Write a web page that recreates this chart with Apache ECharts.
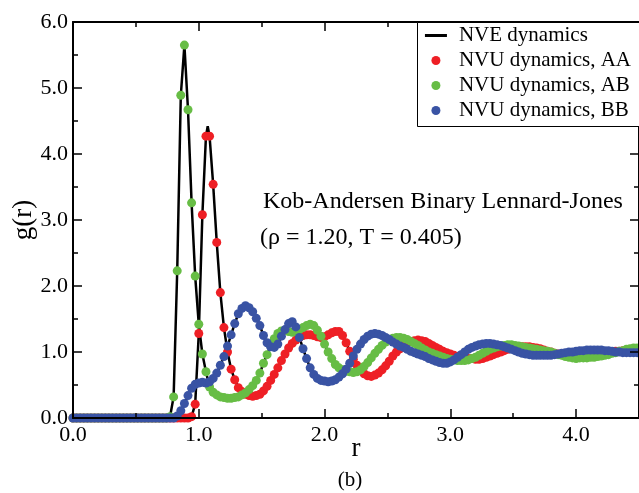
<!DOCTYPE html>
<html>
<head>
<meta charset="utf-8">
<script src="https://cdn.jsdelivr.net/npm/echarts/dist/echarts.min.js"></script>
<style>html,body{margin:0;padding:0;background:#fff}#c{width:639px;height:493px}</style>
</head>
<body>
<div id="c"></div>
<script>
// sampling step of r (dots are spaced 1/35 apart in r)
const rStep = 1 / 35;

// g(r), one value per sample, r = 0 ... 4.486
const gAA = [
 0,0,0,0,0,0,0,0,0,0, 0,0,0,0,0,0,0,0,0,0, 0,0,0,0,0,0,0,0,0,0, 0,0,0,
 0.02,0.21,1.28,3.08,4.27,4.27,3.54,2.66,1.90,1.37,
 1.00,0.74,0.58,0.46,0.40,0.36,0.34,0.33,0.34,0.36,
 0.41,0.48,0.57,0.66,0.76,0.87,0.97,1.06,1.13,1.18,
 1.22,1.25,1.26,1.26,1.25,1.23,1.22,1.23,1.26,1.29,
 1.31,1.31,1.25,1.14,1.01,0.89,0.80,0.72,0.67,0.64,
 0.63,0.65,0.68,0.73,0.79,0.86,0.94,1.00,1.05,1.10,
 1.14,1.16,1.17,1.18,1.17,1.16,1.13,1.10,1.07,1.04,
 1.01,0.99,0.97,0.95,0.93,0.92,0.91,0.90,0.90,0.89,
 0.89,0.90,0.92,0.94,0.96,0.98,1.00,1.02,1.04,1.06,
 1.07,1.08,1.08,1.08,1.08,1.07,1.06,1.05,1.03,1.01,
 1.00,0.98,0.97,0.96,0.95,0.94,0.94,0.93,0.93,0.93,
 0.94,0.94,0.95,0.96,0.97,0.98,0.99,1.00,1.01,1.01,
 1.02,1.02,1.03,1.03,1.03
];
const gAB = [
 0,0,0,0,0,0,0,0,0,0, 0,0,0,0,0,0,0,0,0,0, 0,0,0,0,0,0,0,
 0.02,0.32,2.23,4.89,5.65,4.67,3.26,2.15,1.42,0.97,
 0.70,0.47,0.39,0.35,0.32,0.31,0.30,0.30,0.31,0.32,
 0.35,0.38,0.43,0.49,0.57,0.68,0.83,0.96,1.09,1.20,
 1.28,1.32,1.33,1.31,1.30,1.31,1.34,1.37,1.40,1.42,
 1.40,1.33,1.24,1.12,1.00,0.90,0.81,0.76,0.73,0.71,
 0.70,0.69,0.70,0.73,0.78,0.84,0.91,0.98,1.04,1.10,
 1.15,1.19,1.21,1.22,1.22,1.21,1.19,1.16,1.13,1.10,
 1.06,1.03,1.00,0.98,0.96,0.94,0.92,0.90,0.89,0.88,
 0.87,0.87,0.87,0.88,0.90,0.92,0.95,0.98,1.01,1.04,
 1.06,1.08,1.09,1.10,1.11,1.11,1.10,1.09,1.08,1.07,
 1.06,1.05,1.04,1.03,1.02,1.01,1.00,0.98,0.96,0.95,
 0.93,0.92,0.91,0.90,0.91,0.91,0.91,0.92,0.92,0.93,
 0.94,0.95,0.96,0.98,0.99,1.01,1.02,1.04,1.05,1.06,
 1.06
];
const gBB = [
 0,0,0,0,0,0,0,0,0,0, 0,0,0,0,0,0,0,0,0,0, 0,0,0,0,0,0,0,0,0,
 0.03,0.11,0.22,0.34,0.45,0.51,0.53,0.54,0.53,0.55,0.60,
 0.68,0.80,0.93,1.09,1.26,1.43,1.58,1.66,1.70,1.67,
 1.61,1.51,1.40,1.25,1.14,1.08,1.07,1.12,1.24,1.34,
 1.43,1.46,1.38,1.22,1.05,0.90,0.76,0.66,0.60,0.57,
 0.56,0.55,0.56,0.58,0.62,0.67,0.74,0.83,0.94,1.04,
 1.12,1.19,1.24,1.27,1.28,1.27,1.25,1.22,1.19,1.15,
 1.12,1.09,1.07,1.04,1.01,0.99,0.97,0.95,0.93,0.90,
 0.88,0.86,0.84,0.83,0.83,0.85,0.88,0.92,0.96,1.00,
 1.04,1.07,1.09,1.11,1.12,1.13,1.13,1.12,1.11,1.10,
 1.08,1.06,1.04,1.02,1.00,0.98,0.97,0.96,0.95,0.95,
 0.95,0.95,0.95,0.95,0.96,0.97,0.98,0.99,1.00,1.00,
 1.01,1.02,1.02,1.03,1.03,1.03,1.03,1.03,1.02,1.02,
 1.01,1.00,1.00,0.99,0.99,0.99,0.99,0.99
];
// NVE curve: extra sample at the top of the AA first peak (r, g)
const nveAAPeak = [1.071, 4.42];

const xTickLabels = ['0.0', '1.0', '2.0', '3.0', '4.0'];
const yTickLabels = ['0.0', '1.0', '2.0', '3.0', '4.0', '5.0', '6.0'];
const seriesNames = ['NVE dynamics', 'NVU dynamics, AA', 'NVU dynamics, AB', 'NVU dynamics, BB'];
const colors = ['#000000', '#ee1f25', '#67bd45', '#3953a4'];

function pairs(g) { return g.map((v, i) => [+(i * rStep).toFixed(5), v]); }
const aa = pairs(gAA), ab = pairs(gAB), bb = pairs(gBB);
const nveAA = aa.concat([nveAAPeak]).sort((p, q) => p[0] - q[0]);

const serif = '"Liberation Serif", "Times New Roman", serif';
const black = '#000';

function xAx(pos, interval, len, main) {
  return {
    type: 'value', position: pos, min: 0, max: 4.5, interval: interval,
    axisLine: { show: main, onZero: false, lineStyle: { color: black, width: 2 } },
    axisTick: { show: true, inside: true, length: len, lineStyle: { color: black, width: 1.5 } },
    axisLabel: main && pos === 'bottom' ? {
      show: true, margin: 6, color: black, fontSize: 22, fontFamily: serif,
      showMaxLabel: false, hideOverlap: false,
      // the 0.0 label is drawn below as text so that it may overlap the y-axis 0.0 like the original
      formatter: v => (v > 0 && Number.isInteger(v) && xTickLabels[v] !== undefined) ? xTickLabels[v] : ''
    } : { show: false },
    splitLine: { show: false },
    z: 10
  };
}
function yAx(pos, main) {
  return {
    type: 'value', position: pos, min: 0, max: 6, interval: 1,
    axisLine: { show: true, onZero: false, lineStyle: { color: black, width: 2 } },
    axisTick: { show: true, inside: true, length: 9, lineStyle: { color: black, width: 1.5 } },
    minorTick: { show: true, splitNumber: 2, length: 5, lineStyle: { color: black, width: 1.5 } },
    axisLabel: main ? {
      show: true, margin: 5, color: black, fontSize: 22, fontFamily: serif, hideOverlap: false,
      formatter: v => (Number.isInteger(v) && yTickLabels[v] !== undefined) ? yTickLabels[v] : ''
    } : { show: false },
    splitLine: { show: false },
    minorSplitLine: { show: false },
    z: 10
  };
}

const xAxes = [xAx('bottom', 1, 9, true), xAx('bottom', 0.5, 5, false), xAx('top', 1, 9, true), xAx('top', 0.5, 5, false)];
xAxes[0].name = 'r';
xAxes[0].nameLocation = 'middle';
xAxes[0].nameGap = 17;
xAxes[0].nameMoveOverlap = false;
xAxes[0].nameTextStyle = { fontSize: 27, fontFamily: serif, color: black };
const yAxes = [yAx('left', true), yAx('right', false)];
yAxes[0].name = 'g(r)';
yAxes[0].nameLocation = 'middle';
yAxes[0].nameGap = 36;
yAxes[0].nameMoveOverlap = false;
yAxes[0].nameTextStyle = { fontSize: 27, fontFamily: serif, color: black };

function nveLine(data) {
  return {
    name: seriesNames[0], type: 'line', data: data, symbol: 'none', showSymbol: false,
    lineStyle: { color: colors[0], width: 2.5 }, itemStyle: { color: colors[0] },
    z: 2, silent: true
  };
}
function dots(k, data) {
  return {
    name: seriesNames[k], type: 'scatter', data: data, symbol: 'circle', symbolSize: 9,
    itemStyle: { color: colors[k], opacity: 1 }, z: 3, silent: true
  };
}

const chart = echarts.init(document.getElementById('c'), null, { renderer: 'canvas' });
chart.setOption({
  animation: false,
  backgroundColor: '#fff',
  grid: { left: 73, top: 22, width: 568, height: 396, containLabel: false },
  xAxis: xAxes,
  yAxis: yAxes,
  legend: {
    orient: 'vertical', right: -30, top: 22, z: 16,
    padding: [3, 38, 6, 8], itemGap: 4, itemWidth: 22, itemHeight: 9,
    backgroundColor: 'transparent', borderWidth: 0,
    textStyle: { fontSize: 21, fontFamily: serif, color: black, padding: [0, 0, 0, 7] },
    data: [
      { name: seriesNames[0], icon: 'path://M0,0 H22 V3 H0 Z', itemStyle: { color: black } },
      { name: seriesNames[1], icon: 'circle' },
      { name: seriesNames[2], icon: 'circle' },
      { name: seriesNames[3], icon: 'circle' }
    ],
    selectedMode: false
  },
  graphic: [
    // legend frame; its right side runs past the edge of the picture as in the original
    { type: 'rect', id: 'legendFrame', z: 15, silent: true,
      shape: { x: 417.5, y: 22.5, width: 260, height: 104 },
      style: { fill: '#fff', stroke: black, lineWidth: 1 } },
    { type: 'text', x: 263, y: 202, z: 20,
      style: { text: 'Kob-Andersen Binary Lennard-Jones', font: '24px ' + serif, fill: black, align: 'left', verticalAlign: 'middle' } },
    { type: 'text', x: 260, y: 238, z: 20,
      style: { text: '(ρ = 1.20, T = 0.405)', font: '24px ' + serif, fill: black, align: 'left', verticalAlign: 'middle' } },
    { type: 'text', x: 350, y: 480, z: 20,
      style: { text: '(b)', font: '21px ' + serif, fill: black, align: 'center', verticalAlign: 'middle' } }
  ],
  series: [
    nveLine(nveAA), nveLine(ab), nveLine(bb),
    dots(1, aa), dots(2, ab), dots(3, bb)
  ]
});
// x-axis label at r = 0, placed through the axis scale
const p0 = chart.convertToPixel({ xAxisIndex: 0, yAxisIndex: 0 }, [0, 0]);
chart.setOption({
  graphic: [
    { type: 'text', id: 'x0label', x: p0[0], y: p0[1] + 6, z: 20,
      style: { text: xTickLabels[0], font: '22px ' + serif, fill: black, align: 'center', verticalAlign: 'top' } }
  ]
});
</script>
</body>
</html>
